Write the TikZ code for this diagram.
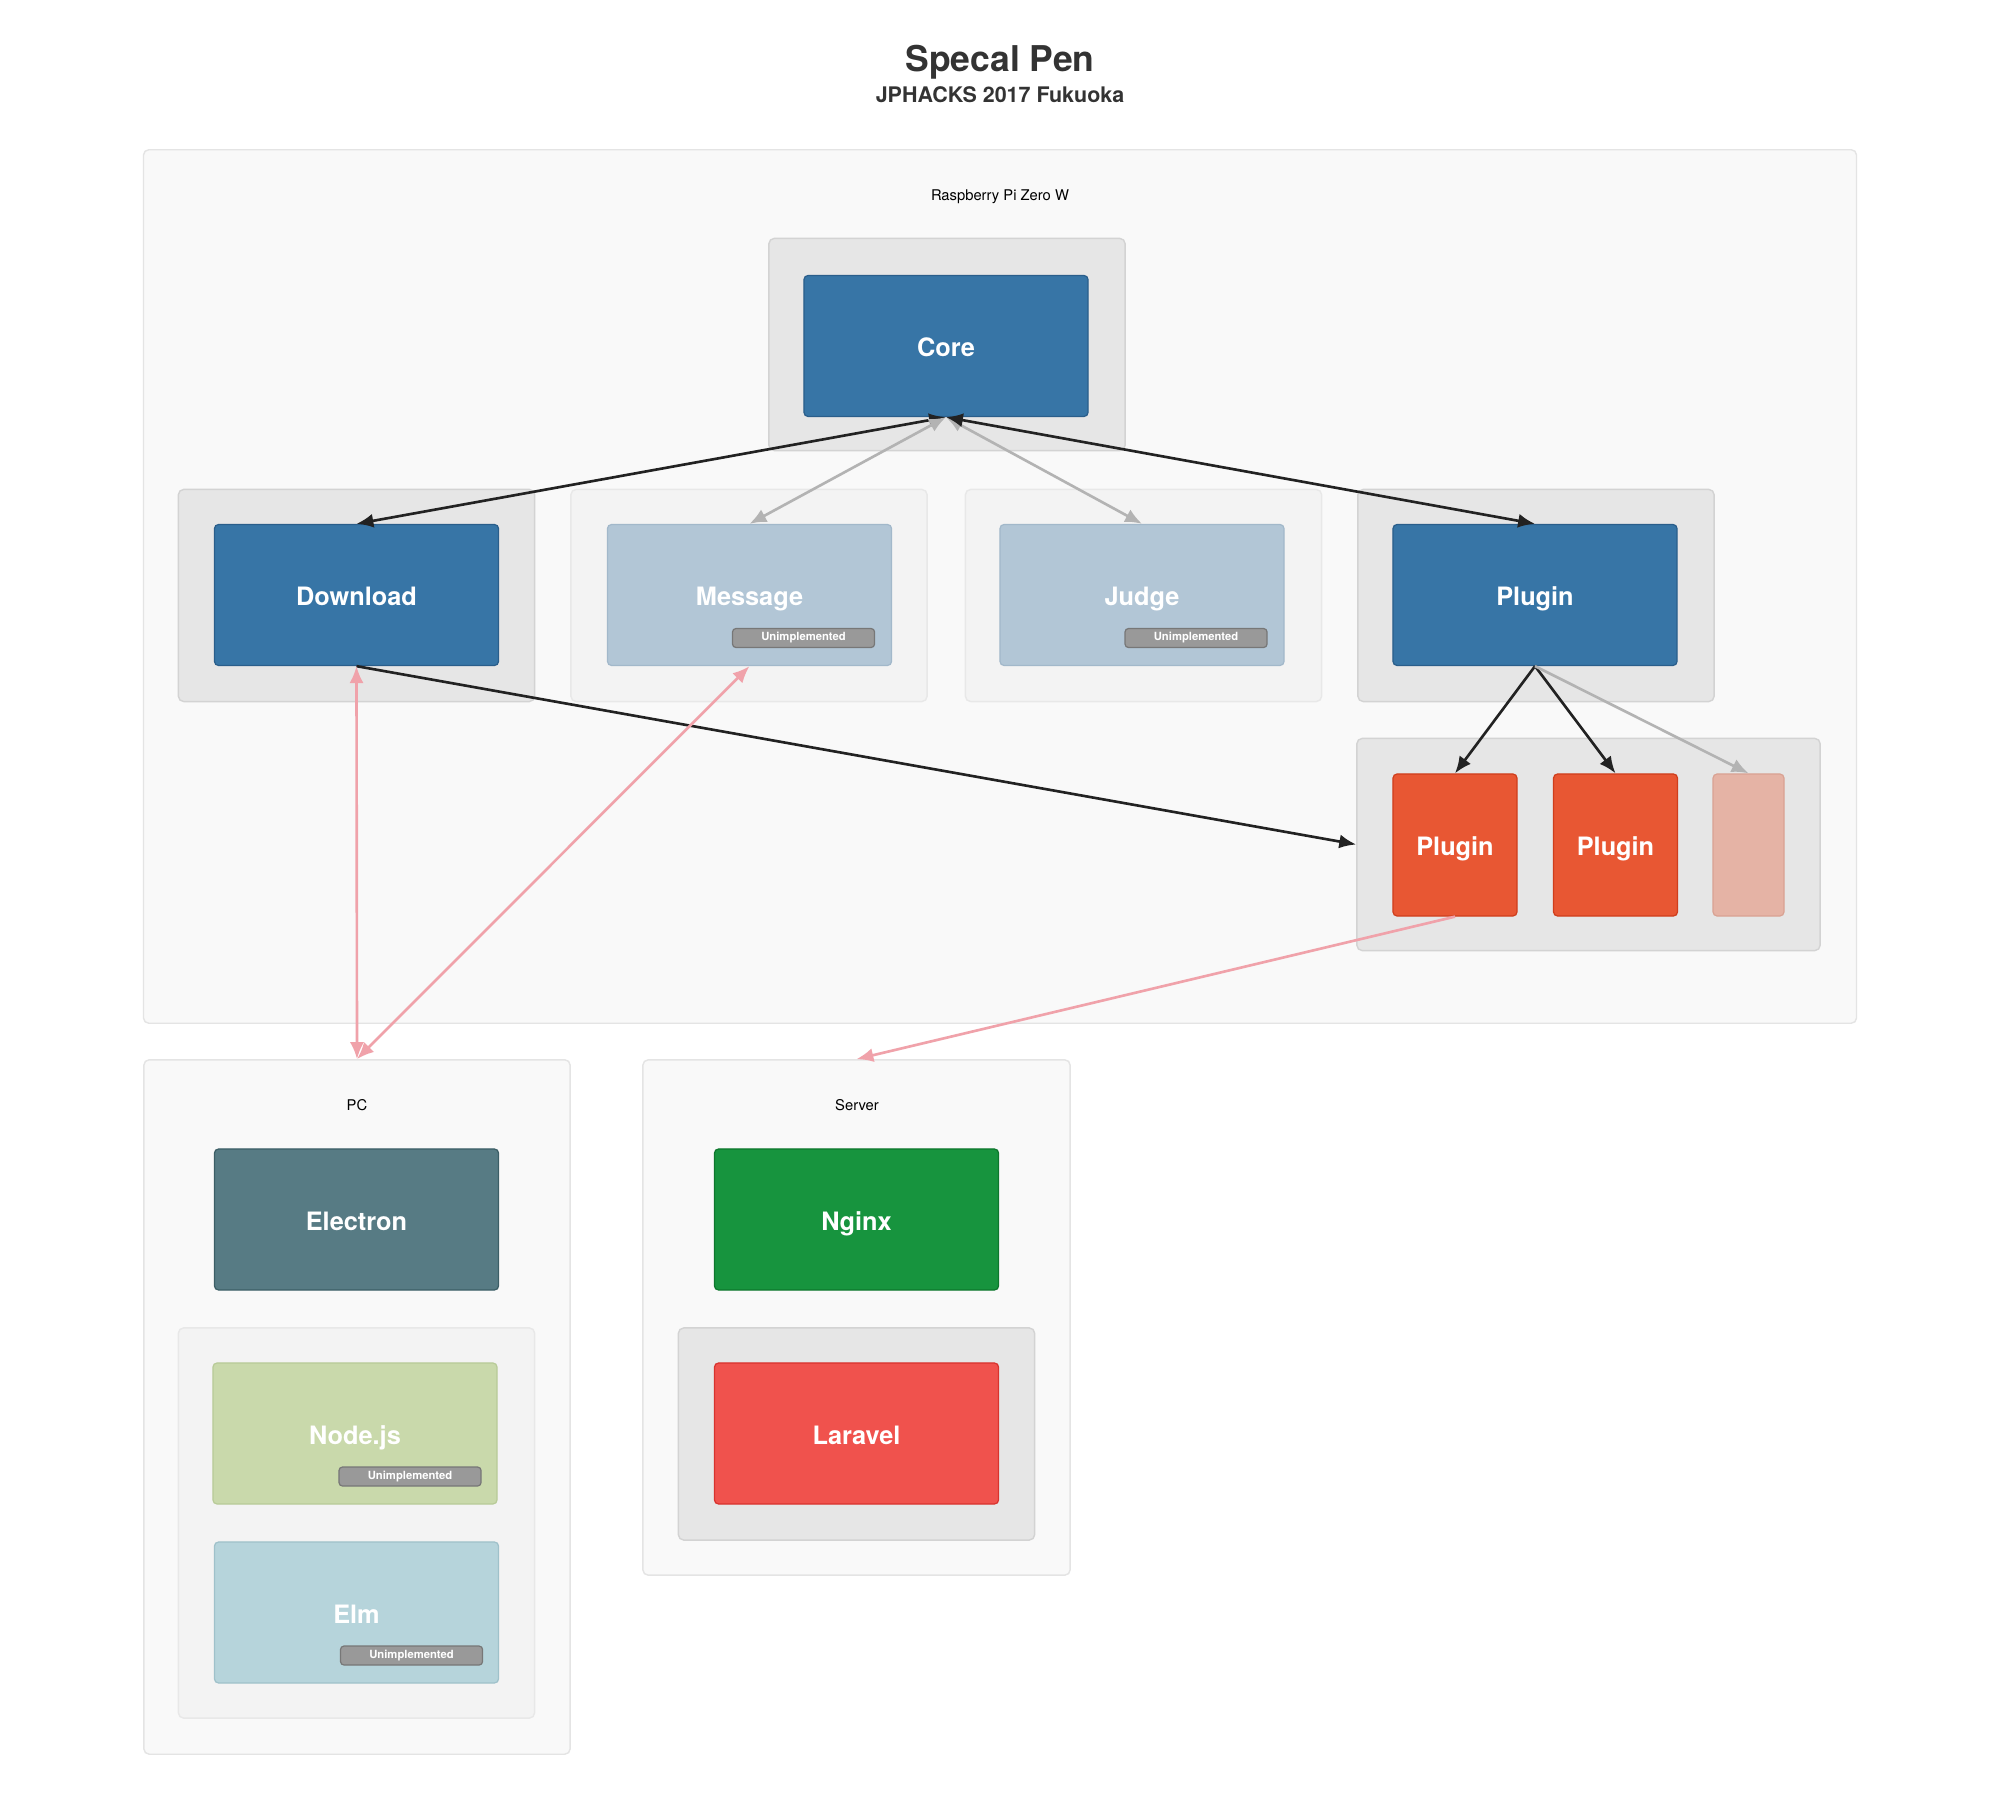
\documentclass[tikz,border=0pt]{standalone}
\usepackage{fontspec}
\setmainfont{TeX Gyre Heros}
\usetikzlibrary{arrows.meta,positioning}

\definecolor{zonefill}{HTML}{F9F9F9}
\definecolor{zoneline}{HTML}{E4E4E4}
\definecolor{grpfill}{HTML}{E6E6E6}
\definecolor{grpline}{HTML}{D3D3D3}
\definecolor{lgrpfill}{HTML}{F3F3F3}
\definecolor{lgrpline}{HTML}{E8E8E8}
\definecolor{coreblue}{HTML}{3775A6}
\definecolor{coreline}{HTML}{2A5E8B}
\definecolor{fadeblue}{HTML}{B2C6D6}
\definecolor{fadeline}{HTML}{A2B8CA}
\definecolor{plugred}{HTML}{E85733}
\definecolor{plugline}{HTML}{CF3E1C}
\definecolor{fadered}{HTML}{E5B3A5}
\definecolor{faderedline}{HTML}{D9A293}
\definecolor{electronc}{HTML}{577B84}
\definecolor{electronline}{HTML}{3C5E66}
\definecolor{nodejsc}{HTML}{C9D9AB}
\definecolor{nodejsline}{HTML}{B8CB98}
\definecolor{elmc}{HTML}{B6D4DB}
\definecolor{elmline}{HTML}{9FC1CA}
\definecolor{nginxc}{HTML}{17943E}
\definecolor{nginxline}{HTML}{0D772D}
\definecolor{laravelc}{HTML}{F0524D}
\definecolor{laravelline}{HTML}{D8332E}
\definecolor{tagfill}{HTML}{999999}
\definecolor{tagline}{HTML}{777777}
\definecolor{wirec}{HTML}{222222}
\definecolor{faintc}{HTML}{B3B3B3}
\definecolor{pinkc}{HTML}{F0A2AA}
\definecolor{textc}{HTML}{333333}

\tikzset{
  zone/.style={draw=zoneline, fill=zonefill, rounded corners=1.5pt, inner sep=0pt},
  zonelabel/.style={text=black, font=\fontsize{4.2}{5}\selectfont},
  grp/.style={draw=grpline, fill=grpfill, rounded corners=1.5pt, inner sep=0pt,
    minimum width=3.56cm, minimum height=2.12cm},
  lgrp/.style={grp, draw=lgrpline, fill=lgrpfill},
  comp/.style={rounded corners=1.2pt, inner sep=0pt, line width=0.35pt, text=white,
    minimum width=2.84cm, minimum height=1.41cm, text height=6.5pt, text depth=0.5pt,
    font=\fontsize{7.2}{8.6}\selectfont\bfseries},
  badge/.style={draw=tagline, fill=tagfill, rounded corners=1pt, inner sep=0pt,
    line width=0.35pt, text=white, minimum width=1.42cm, minimum height=0.19cm,
    font=\fontsize{3.2}{3.8}\selectfont\bfseries},
  wire/.style={draw=wirec, line width=0.75pt},
  faint/.style={draw=faintc, line width=0.75pt},
  pink/.style={draw=pinkc, line width=0.75pt},
}

\begin{document}
\begin{tikzpicture}[x=0.01cm, y=-0.01cm, >={Latex[length=4.8pt,width=4pt]}]
  \useasboundingbox[fill=white] (0,0) rectangle (2000,1810);

  \node[text=textc, font=\fontsize{10.1}{12}\selectfont\bfseries] (title) at (1000,62) {Specal Pen};
  \node[text=textc, font=\fontsize{6.1}{7.3}\selectfont\bfseries] (subtitle) at (1000,95) {JPHACKS 2017 Fukuoka};

  % Raspberry Pi Zero W
  \node[zone, minimum width=17.12cm, minimum height=8.73cm] (pi) at (1000,586.5) {};
  \node[zonelabel] (pilabel) at (1000,197) {Raspberry Pi Zero W};
  \node[grp] (coregrp) at (947,344.5) {};
  \node[grp] (downloadgrp) at (356.5,595.5) {};
  \node[lgrp] (messagegrp) at (749,595.5) {};
  \node[lgrp] (judgegrp) at (1143.5,595.5) {};
  \node[grp] (plugingrp) at (1536,595.5) {};
  \node[grp, minimum width=4.63cm] (pluginsgrp) at (1588.5,844.5) {};

  \node[comp, draw=coreline, fill=coreblue] (core) at (946,346) {Core};
  \node[comp, draw=coreline, fill=coreblue] (download) at (356.5,595) {Download};
  \node[comp, draw=fadeline, fill=fadeblue] (message) at (749.5,595) {Message};
  \node[comp, draw=fadeline, fill=fadeblue] (judge) at (1142,595) {Judge};
  \node[comp, draw=coreline, fill=coreblue] (plugin) at (1535,595) {Plugin};
  \node[comp, draw=plugline, fill=plugred, minimum width=1.24cm, minimum height=1.42cm] (plugin1) at (1455,845) {Plugin};
  \node[comp, draw=plugline, fill=plugred, minimum width=1.24cm, minimum height=1.42cm] (plugin2) at (1615.5,845) {Plugin};
  \node[comp, draw=faderedline, fill=fadered, minimum width=0.71cm, minimum height=1.42cm] (plugin3) at (1748.5,845) {};

  \node[badge, above left=0.18cm and 0.17cm of message.south east] (messagetag) {Unimplemented};
  \node[badge, above left=0.18cm and 0.17cm of judge.south east] (judgetag) {Unimplemented};

  % PC
  \node[zone, minimum width=4.26cm, minimum height=6.94cm] (pc) at (357,1407) {};
  \node[zonelabel] (pclabel) at (357,1105) {PC};
  \node[lgrp, minimum height=3.90cm] (jsgrp) at (356.5,1523) {};
  \node[comp, draw=electronline, fill=electronc] (electron) at (356.5,1219.5) {Electron};
  \node[comp, draw=nodejsline, fill=nodejsc] (nodejs) at (355,1433.5) {Node.js};
  \node[comp, draw=elmline, fill=elmc] (elm) at (356.5,1612.5) {Elm};
  \node[badge, above left=0.18cm and 0.16cm of nodejs.south east] (nodejstag) {Unimplemented};
  \node[badge, above left=0.18cm and 0.16cm of elm.south east] (elmtag) {Unimplemented};

  % Server
  \node[zone, minimum width=4.27cm, minimum height=5.15cm] (server) at (856.5,1317.5) {};
  \node[zonelabel] (serverlabel) at (857,1105) {Server};
  \node[grp] (laravelgrp) at (856.5,1434) {};
  \node[comp, draw=nginxline, fill=nginxc] (nginx) at (856.5,1219.5) {Nginx};
  \node[comp, draw=laravelline, fill=laravelc] (laravel) at (856.5,1433.5) {Laravel};

  \begin{scope}
    \draw[wire, <->] (core.south) to (download.north);
    \draw[faint, <->] (core.south) to (message.north);
    \draw[faint, <->] (core.south) to (judge.north);
    \draw[wire, <->] (core.south) to (plugin.north);
    \draw[wire, ->] (download.south) to (pluginsgrp.west);
    \draw[wire, ->] (plugin.south) to (plugin1.north);
    \draw[wire, ->] (plugin.south) to (plugin2.north);
    \draw[faint, ->] (plugin.south) to (plugin3.north);
    \draw[pink, <->] (download.south) to (pc.north);
    \draw[pink, <->] (message.south) to (pc.north);
    \draw[pink, ->] (plugin1.south) to (server.north);
  \end{scope}
\end{tikzpicture}
\end{document}
